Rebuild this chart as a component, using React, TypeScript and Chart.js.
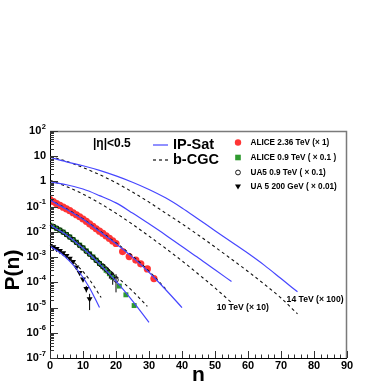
import React, { useEffect, useRef } from "react";
import { Chart, registerables } from "chart.js";

Chart.register(...registerables);

const FONT = "'Liberation Sans', Arial, Helvetica, sans-serif";

// ---- theory curves (n, P(n)) ----
const n14 = [0, 5, 10, 15, 20, 25, 30, 35, 40, 45, 50, 55, 60, 65, 70, 75];
const ipsat14 = [8.9, 6.0, 4.2, 2.75, 1.66, 0.93, 0.48, 0.224, 0.089, 0.0316, 0.0112, 0.00398, 0.00141, 4.7e-4, 1.41e-4, 4.2e-5];
const bcgc14 = [10, 6.3, 3.55, 1.86, 0.89, 0.38, 0.151, 0.056, 0.0209, 0.0074, 0.00251, 8.3e-4, 2.7e-4, 8.3e-5, 2.4e-5, 5.6e-6];

const n10 = [0, 5, 10, 15, 20, 25, 30, 35, 40, 45, 50, 55];
const ipsat10 = [0.95, 0.74, 0.5, 0.275, 0.141, 0.056, 0.0209, 0.0076, 0.00263, 9.3e-4, 3.16e-4, 1.07e-4];
const bcgc10 = [1.12, 0.63, 0.316, 0.138, 0.055, 0.02, 0.0068, 0.00224, 7.1e-4, 2.1e-4, 6.0e-5, 1.58e-5];

const n236 = [0, 5, 10, 15, 20, 25, 30, 35, 40];
const ipsat236 = [0.182, 0.079, 0.0316, 0.0105, 0.0034, 0.001, 2.5e-4, 5.2e-5, 1e-5];
const nb236 = [0, 5, 10, 15, 20, 25, 30, 35];
const bcgc236 = [0.19, 0.083, 0.033, 0.0112, 0.0037, 0.00112, 2.8e-4, 5.6e-5];

const n09 = [0, 5, 10, 15, 20, 25, 30];
const ipsat09 = [0.0186, 0.0076, 0.00224, 5.4e-4, 1.12e-4, 1.86e-5, 2.6e-6];
const nb09 = [0, 5, 10, 15, 20, 25, 29.5];
const bcgc09 = [0.019, 0.0079, 0.00251, 7.1e-4, 1.78e-4, 4.5e-5, 1.12e-5];

const n200 = [0, 3, 6, 9, 12, 15];
const ipsat200 = [0.0027, 0.00151, 6.8e-4, 2.4e-4, 6.0e-5, 1e-5];
const nb200 = [0, 4, 8, 12, 15.5];
const bcgc200 = [0.00282, 0.00141, 5.0e-4, 1.26e-4, 2.5e-5];

// ---- data points ----
const aliceN236 = [0, 1, 2, 3, 4, 5, 6, 7, 8, 9, 10, 11, 12, 13, 14, 15, 16, 17, 18, 19, 20, 22, 24, 26, 27.5, 29.5, 31.5];
const aliceP236 = [0.19, 0.158, 0.132, 0.112, 0.0955, 0.0813, 0.0692, 0.0575, 0.0479, 0.0398, 0.0324, 0.0263, 0.0209, 0.0166, 0.0132, 0.0107, 0.0087, 0.0069, 0.0055, 0.00437, 0.00347, 0.00166, 0.00105, 7.6e-4, 5.4e-4, 3.4e-4, 1.41e-4];

const aliceN09 = [0, 1, 2, 3, 4, 5, 6, 7, 8, 9, 10, 11, 12, 13, 14, 15, 16, 17, 18, 19, 21, 23, 25.5];
const aliceP09 = [0.0186, 0.0162, 0.0138, 0.0117, 0.0098, 0.0079, 0.0063, 0.005, 0.0039, 0.003, 0.00234, 0.00178, 0.00135, 0.00102, 7.6e-4, 5.6e-4, 4.2e-4, 3.0e-4, 2.2e-4, 1.58e-4, 7.1e-5, 3.2e-5, 1.2e-5];

const ua5N09 = [0, 1, 2, 3, 4, 5, 6, 7, 8, 9, 10, 11, 12, 13, 14, 15, 16, 17, 18, 19, 20];
const ua5P09 = [0.0175, 0.0165, 0.014, 0.0118, 0.0097, 0.0078, 0.0062, 0.0049, 0.0038, 0.0029, 0.0023, 0.0017, 0.0013, 9.8e-4, 7.4e-4, 5.5e-4, 4.3e-4, 3.3e-4, 2.4e-4, 1.7e-4, 1.25e-4];
const ua5Lo09 = [0.0172, 0.0162, 0.0137, 0.0115, 0.0094, 0.0075, 0.0059, 0.0046, 0.0035, 0.0026, 0.002, 0.0015, 0.0011, 8.0e-4, 5.8e-4, 4.1e-4, 3.0e-4, 2.2e-4, 1.4e-4, 8.0e-5, 4.0e-5];
const ua5Hi09 = [0.0178, 0.0168, 0.0143, 0.0121, 0.01, 0.0081, 0.0065, 0.0052, 0.0041, 0.0032, 0.0026, 0.002, 0.0015, 0.0012, 9.0e-4, 7.0e-4, 5.6e-4, 4.3e-4, 3.3e-4, 2.6e-4, 2.1e-4];

const ua5N200 = [0, 1, 2, 3, 4, 5, 6, 7, 8, 9, 10, 11, 12];
const ua5P200 = [0.00282, 0.00251, 0.00214, 0.00178, 0.00145, 0.00115, 8.9e-4, 6.6e-4, 4.0e-4, 2.4e-4, 1.32e-4, 5.6e-5, 2.2e-5];
const ua5Lo200 = [0.0028, 0.00249, 0.00212, 0.00176, 0.00143, 0.00113, 8.7e-4, 6.4e-4, 3.8e-4, 2.2e-4, 1.15e-4, 4.0e-5, 7.9e-6];
const ua5Hi200 = [0.00284, 0.00253, 0.00216, 0.0018, 0.00147, 0.00117, 9.1e-4, 6.8e-4, 4.2e-4, 2.6e-4, 1.5e-4, 7.2e-5, 3.5e-5];

// ---- labels ----
const xTitle = "n";
const yTitle = "P(n)";
const etaLabel = "|η|<0.5";
const curveLegend = ["IP-Sat", "b-CGC"];
const dataLegend = ["ALICE 2.36 TeV (× 1)", "ALICE 0.9 TeV ( × 0.1 )", "UA5 0.9 TeV ( × 0.1)", "UA 5 200 GeV ( × 0.01)"];
const label10 = { text: "10 TeV (× 10)", n: 50.5, p: 9.8e-6 };
const label14 = { text: "14 TeV (× 100)", n: 71.7, p: 2.1e-5 };

const BLUE = "#4646ff";
const RED = "#ff3535";
const GREEN = "#2f9a2f";

const pts = (xs: number[], ys: number[]) => xs.map((x, i) => ({ x, y: ys[i] }));

const curve = (xs: number[], ys: number[], dashed: boolean) => ({
  data: pts(xs, ys),
  showLine: true,
  borderColor: dashed ? "#111" : BLUE,
  borderWidth: dashed ? 1.1 : 1.2,
  borderDash: dashed ? [3, 3] : [],
  pointRadius: 0,
  tension: 0.4,
  cubicInterpolationMode: "monotone",
  order: 0,
});

const decorPlugin = {
  id: "decor",
  beforeDatasetsDraw(chart: any) {
    const ctx = chart.ctx;
    const xs = chart.scales.x;
    const ys = chart.scales.y;
    ctx.save();
    ctx.strokeStyle = "#000";
    ctx.lineWidth = 1;
    chart.data.datasets.forEach((ds: any) => {
      if (!ds.errLow) return;
      ds.data.forEach((p: any, i: number) => {
        const x = xs.getPixelForValue(p.x);
        ctx.beginPath();
        ctx.moveTo(x, ys.getPixelForValue(ds.errLow[i]));
        ctx.lineTo(x, ys.getPixelForValue(ds.errHigh[i]));
        ctx.stroke();
      });
    });
    ctx.restore();
  },
  afterDraw(chart: any) {
    const ctx = chart.ctx;
    const a = chart.chartArea;
    const xs = chart.scales.x;
    const ys = chart.scales.y;
    ctx.save();

    // frame
    ctx.strokeStyle = "#7a7a7a";
    ctx.lineWidth = 1.5;
    ctx.beginPath();
    ctx.moveTo(a.left, a.top + 0.5);
    ctx.lineTo(a.right - 0.5, a.top + 0.5);
    ctx.lineTo(a.right - 0.5, a.bottom);
    ctx.stroke();
    ctx.strokeStyle = "#000";
    ctx.lineWidth = 1;
    ctx.beginPath();
    ctx.moveTo(a.left + 0.5, a.top);
    ctx.lineTo(a.left + 0.5, a.bottom + 0.5);
    ctx.lineTo(a.right, a.bottom + 0.5);
    ctx.stroke();

    // y ticks
    ctx.strokeStyle = "#333";
    ctx.lineWidth = 1;
    for (let e = -7; e <= 2; e++) {
      const v = Math.pow(10, e);
      const y = Math.round(ys.getPixelForValue(v)) + 0.5;
      ctx.beginPath();
      ctx.moveTo(a.left, y);
      ctx.lineTo(a.left + 8, y);
      ctx.stroke();
      if (e < 2) {
        for (let m = 2; m <= 9; m++) {
          const ym = Math.round(ys.getPixelForValue(m * v)) + 0.5;
          ctx.beginPath();
          ctx.moveTo(a.left, ym);
          ctx.lineTo(a.left + 4, ym);
          ctx.stroke();
        }
      }
    }
    // x ticks
    for (let v = 0; v <= 90; v += 2) {
      const x = Math.round(xs.getPixelForValue(v)) + 0.5;
      const len = v % 10 === 0 ? 7 : 3.5;
      ctx.beginPath();
      ctx.moveTo(x, a.bottom);
      ctx.lineTo(x, a.bottom - len);
      ctx.stroke();
    }

    // y tick labels with superscripts
    ctx.fillStyle = "#000";
    ctx.textBaseline = "middle";
    const rightEdge = a.left - 4;
    for (let e = -7; e <= 2; e++) {
      const y = ys.getPixelForValue(Math.pow(10, e));
      if (e === 0 || e === 1) {
        ctx.font = `bold 11px ${FONT}`;
        ctx.textAlign = "right";
        ctx.fillText(e === 0 ? "1" : "10", rightEdge, y);
      } else {
        const sup = String(e);
        ctx.font = `bold 7.5px ${FONT}`;
        const sw = ctx.measureText(sup).width;
        ctx.textAlign = "left";
        ctx.fillText(sup, rightEdge - sw, y - 4.5);
        ctx.font = `bold 11px ${FONT}`;
        ctx.textAlign = "right";
        ctx.fillText("10", rightEdge - sw - 0.5, y);
      }
    }

    // axis titles
    ctx.font = `bold 21px ${FONT}`;
    ctx.textAlign = "center";
    ctx.textBaseline = "middle";
    ctx.fillText(xTitle, (a.left + a.right) / 2, a.bottom + 17);
    ctx.save();
    ctx.translate(13, a.top + 139);
    ctx.rotate(-Math.PI / 2);
    ctx.fillText(yTitle, 0, 0);
    ctx.restore();

    // left legend
    ctx.textAlign = "left";
    ctx.font = `bold 12px ${FONT}`;
    ctx.fillText(etaLabel, a.left + 43, a.top + 13);
    ctx.lineWidth = 1.2;
    ctx.strokeStyle = BLUE;
    ctx.beginPath();
    ctx.moveTo(a.left + 103, a.top + 14);
    ctx.lineTo(a.left + 118, a.top + 14);
    ctx.stroke();
    ctx.strokeStyle = "#111";
    ctx.setLineDash([3, 3]);
    ctx.beginPath();
    ctx.moveTo(a.left + 103, a.top + 29);
    ctx.lineTo(a.left + 118, a.top + 29);
    ctx.stroke();
    ctx.setLineDash([]);
    ctx.font = `bold 14.5px ${FONT}`;
    ctx.fillText(curveLegend[0], a.left + 123, a.top + 14);
    ctx.fillText(curveLegend[1], a.left + 123, a.top + 29);

    // right legend
    const mx = a.left + 188;
    const tx = a.left + 200.5;
    const rows = [11.5, 26.5, 41.5, 56];
    ctx.font = `bold 8.2px ${FONT}`;
    rows.forEach((dy, i) => {
      const y = a.top + dy;
      if (i === 0) {
        ctx.fillStyle = RED;
        ctx.beginPath();
        ctx.arc(mx, y, 3.2, 0, Math.PI * 2);
        ctx.fill();
      } else if (i === 1) {
        ctx.fillStyle = GREEN;
        ctx.fillRect(mx - 2.8, y - 2.8, 5.6, 5.6);
      } else if (i === 2) {
        ctx.strokeStyle = "#000";
        ctx.lineWidth = 0.9;
        ctx.beginPath();
        ctx.arc(mx, y, 2.4, 0, Math.PI * 2);
        ctx.stroke();
      } else {
        ctx.fillStyle = "#000";
        ctx.beginPath();
        ctx.moveTo(mx - 3, y - 2.5);
        ctx.lineTo(mx + 3, y - 2.5);
        ctx.lineTo(mx, y + 2.5);
        ctx.closePath();
        ctx.fill();
      }
      ctx.fillStyle = "#000";
      ctx.fillText(dataLegend[i], tx, y);
    });

    // curve annotations
    ctx.font = `bold 8.6px ${FONT}`;
    ctx.fillText(label10.text, xs.getPixelForValue(label10.n), ys.getPixelForValue(label10.p));
    ctx.fillText(label14.text, xs.getPixelForValue(label14.n), ys.getPixelForValue(label14.p));

    ctx.restore();
  },
};

export default function App() {
  const ref = useRef<HTMLCanvasElement | null>(null);
  useEffect(() => {
    if (!ref.current) return;
    const chart = new Chart(ref.current, {
      type: "scatter",
      data: {
        datasets: [
          curve(n14, ipsat14, false),
          curve(n14, bcgc14, true),
          curve(n10, ipsat10, false),
          curve(n10, bcgc10, true),
          curve(n236, ipsat236, false),
          curve(nb236, bcgc236, true),
          curve(n09, ipsat09, false),
          curve(nb09, bcgc09, true),
          curve(n200, ipsat200, false),
          curve(nb200, bcgc200, true),
          {
            data: pts(aliceN236, aliceP236),
            pointStyle: "circle",
            pointRadius: 3.6,
            pointBackgroundColor: RED,
            pointBorderWidth: 0,
            order: 2,
          },
          {
            data: pts(aliceN09, aliceP09),
            pointStyle: "rect",
            pointRadius: 3.5,
            pointBackgroundColor: GREEN,
            pointBorderWidth: 0,
            order: 2,
          },
          {
            data: pts(ua5N09, ua5P09),
            pointStyle: "circle",
            pointRadius: 2.3,
            pointBackgroundColor: "rgba(0,0,0,0)",
            pointBorderColor: "#000",
            pointBorderWidth: 0.9,
            errLow: ua5Lo09,
            errHigh: ua5Hi09,
            order: 1,
          },
          {
            data: pts(ua5N200, ua5P200),
            pointStyle: "triangle",
            rotation: 180,
            pointRadius: 3.4,
            pointBackgroundColor: "#000",
            pointBorderColor: "#000",
            pointBorderWidth: 0,
            errLow: ua5Lo200,
            errHigh: ua5Hi200,
            order: 1,
          },
        ] as any,
      },
      options: {
        animation: false,
        responsive: false,
        devicePixelRatio: 1,
        layout: { padding: { left: 0, top: 131, right: 35, bottom: 0 } },
        plugins: { legend: { display: false }, tooltip: { enabled: false } },
        scales: {
          x: {
            type: "linear",
            min: 0,
            max: 90,
            grid: { display: false, drawTicks: false },
            border: { display: false },
            ticks: {
              stepSize: 10,
              color: "#000",
              padding: 1,
              maxRotation: 0,
              font: { family: FONT, size: 11, weight: "bold" },
            },
            afterFit: (s: any) => {
              s.height = 24;
            },
          },
          y: {
            type: "logarithmic",
            min: 1e-7,
            max: 100,
            grid: { display: false, drawTicks: false },
            border: { display: false },
            ticks: { display: false },
            afterFit: (s: any) => {
              s.width = 50;
            },
          },
        },
      } as any,
      plugins: [decorPlugin],
    });
    return () => chart.destroy();
  }, []);

  return (
    <div style={{ position: "fixed", left: 0, top: 0, width: 382, height: 382, background: "#fff" }}>
      <canvas ref={ref} width={382} height={382} style={{ width: 382, height: 382, display: "block" }} />
    </div>
  );
}
